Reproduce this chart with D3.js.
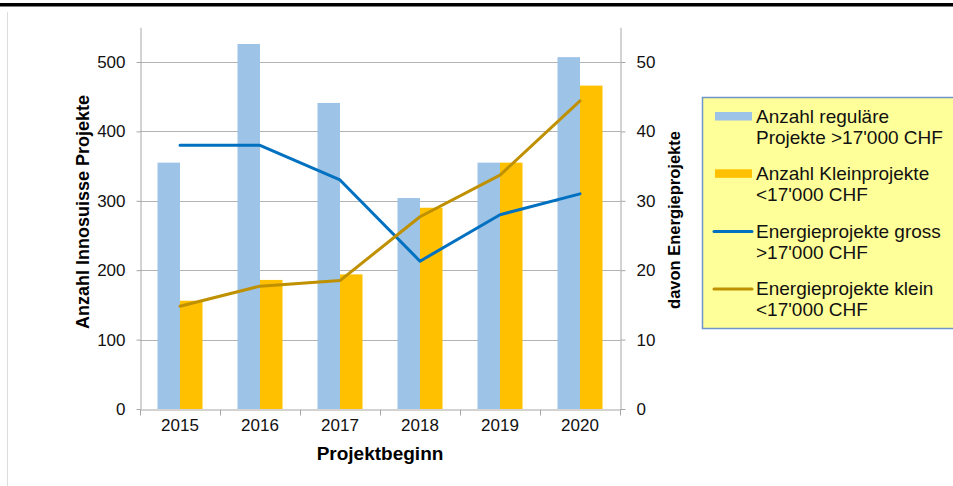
<!DOCTYPE html>
<html>
<head>
<meta charset="utf-8">
<script src="https://cdn.jsdelivr.net/npm/d3@7"></script>
<style>
  body { margin: 0; background: #fff; }
  svg { display: block; font-family: "Liberation Sans", Arial, sans-serif; }
</style>
</head>
<body>
<div id="chart"></div>
<script>
// data
var years = ["2015", "2016", "2017", "2018", "2019", "2020"];
var regulaer = [355, 526, 441, 304, 355, 507];       // Anzahl reguläre Projekte >17'000 CHF
var klein = [156, 186, 194, 290, 355, 466];          // Anzahl Kleinprojekte <17'000 CHF
var energieGross = [38, 38, 33, 21.3, 28, 31];        // Energieprojekte gross (right axis)
var energieKlein = [14.8, 17.7, 18.5, 27.7, 33.7, 44.4]; // Energieprojekte klein (right axis)
var leftTicks = [0, 100, 200, 300, 400, 500];
var rightTicks = [0, 10, 20, 30, 40, 50];

var legendItems = [
  { lines: ["Anzahl reguläre", "Projekte >17'000 CHF"], type: "bar", color: "#9dc3e6" },
  { lines: ["Anzahl Kleinprojekte", "<17'000 CHF"], type: "bar", color: "#ffc000" },
  { lines: ["Energieprojekte gross", ">17'000 CHF"], type: "line", color: "#0070c0" },
  { lines: ["Energieprojekte klein", "<17'000 CHF"], type: "line", color: "#bf9000" }
];

var width = 953, height = 486;
var left = 140, right = 620, bottom = 409;

var svg = d3.select("#chart").append("svg")
    .attr("width", width)
    .attr("height", height);

// frame bits
svg.append("rect").attr("x", 0).attr("y", 3).attr("width", width).attr("height", 3.5).attr("fill", "#000");
svg.append("line").attr("x1", 7.5).attr("x2", 7.5).attr("y1", 12).attr("y2", height)
    .attr("stroke", "#dcdcdc");

var x = d3.scaleBand().domain(years).range([left, right]);
var y = d3.scaleLinear().domain([0, 550]).range([bottom, 27.3]);
var y2 = d3.scaleLinear().domain([0, 55]).range([bottom, 27.3]);
var barW = 22.5;

// gridlines
svg.append("g")
  .selectAll("line")
  .data(leftTicks.slice(1))
  .enter().append("line")
    .attr("x1", left).attr("x2", right)
    .attr("y1", function(d) { return Math.round(y(d)) + 0.5; })
    .attr("y2", function(d) { return Math.round(y(d)) + 0.5; })
    .attr("stroke", "#b3b3b3");

// bars
var bars = svg.append("g");
bars.selectAll("rect.reg")
  .data(regulaer)
  .enter().append("rect")
    .attr("class", "reg")
    .attr("x", function(d, i) { return x(years[i]) + x.bandwidth() / 2 - barW; })
    .attr("y", function(d) { return y(d); })
    .attr("width", barW)
    .attr("height", function(d) { return bottom - y(d); })
    .attr("fill", "#9dc3e6");

bars.selectAll("rect.kl")
  .data(klein)
  .enter().append("rect")
    .attr("class", "kl")
    .attr("x", function(d, i) { return x(years[i]) + x.bandwidth() / 2; })
    .attr("y", function(d) { return y(d); })
    .attr("width", barW)
    .attr("height", function(d) { return bottom - y(d); })
    .attr("fill", "#ffc000");

// axes
var yAxis = svg.append("g")
    .attr("transform", "translate(" + (left + 0.5) + ",0)")
    .call(d3.axisLeft(y).tickValues(leftTicks).tickSize(4).tickSizeOuter(0).tickPadding(11));

var yAxis2 = svg.append("g")
    .attr("transform", "translate(" + (right + 0.5) + ",0)")
    .call(d3.axisRight(y2).tickValues(rightTicks).tickSize(5).tickSizeOuter(0).tickPadding(11));

var xAxis = svg.append("g")
    .attr("transform", "translate(0," + (bottom + 0.5) + ")")
    .call(d3.axisBottom(x).tickSize(0).tickPadding(9));

// category separators on the x axis
xAxis.selectAll("line.sep")
  .data(years.concat(["end"]))
  .enter().append("line")
    .attr("class", "sep")
    .attr("x1", function(d, i) { return Math.round(left + i * x.bandwidth()) + 0.5; })
    .attr("x2", function(d, i) { return Math.round(left + i * x.bandwidth()) + 0.5; })
    .attr("y1", 0).attr("y2", 6)
    .attr("stroke", "#a6a6a6");

[yAxis, yAxis2, xAxis].forEach(function(g) {
  g.selectAll(".domain").attr("stroke", "#a6a6a6");
  g.selectAll(".tick line").attr("stroke", "#a6a6a6");
  g.selectAll("text")
    .attr("font-family", "'Liberation Sans', Arial, sans-serif")
    .attr("font-size", 17)
    .attr("fill", "#111");
});

// lines on the right axis
var line = d3.line()
    .x(function(d, i) { return x(years[i]) + x.bandwidth() / 2; })
    .y(function(d) { return y2(d); });

svg.append("path")
    .datum(energieGross)
    .attr("d", line)
    .attr("fill", "none")
    .attr("stroke", "#0070c0")
    .attr("stroke-width", 3)
    .attr("stroke-linejoin", "round")
    .attr("stroke-linecap", "round");

svg.append("path")
    .datum(energieKlein)
    .attr("d", line)
    .attr("fill", "none")
    .attr("stroke", "#bf9000")
    .attr("stroke-width", 3)
    .attr("stroke-linejoin", "round")
    .attr("stroke-linecap", "round");

// axis titles
svg.append("text")
    .attr("transform", "translate(89,212) rotate(-90)")
    .attr("text-anchor", "middle")
    .attr("font-size", 18)
    .attr("font-weight", "bold")
    .text("Anzahl Innosuisse Projekte");

svg.append("text")
    .attr("transform", "translate(680,220) rotate(-90)")
    .attr("text-anchor", "middle")
    .attr("font-size", 16.5)
    .attr("font-weight", "bold")
    .text("davon Energieprojekte");

svg.append("text")
    .attr("x", 380)
    .attr("y", 460)
    .attr("text-anchor", "middle")
    .attr("font-size", 19)
    .attr("font-weight", "bold")
    .text("Projektbeginn");

// legend
var legend = svg.append("g");
legend.append("rect")
    .attr("x", 702.5).attr("y", 97.5)
    .attr("width", 270).attr("height", 231)
    .attr("fill", "#ffff99")
    .attr("stroke", "#6f94cc")
    .attr("stroke-width", 1.5);

var item = legend.selectAll("g.item")
  .data(legendItems)
  .enter().append("g")
    .attr("class", "item")
    .attr("transform", function(d, i) { return "translate(0," + (123 + i * 57.3) + ")"; });

item.filter(function(d) { return d.type === "bar"; })
  .append("rect")
    .attr("x", 715).attr("y", -11)
    .attr("width", 37).attr("height", 8.5)
    .attr("fill", function(d) { return d.color; });

item.filter(function(d) { return d.type === "line"; })
  .append("line")
    .attr("x1", 714).attr("x2", 752)
    .attr("y1", -6).attr("y2", -6)
    .attr("stroke", function(d) { return d.color; })
    .attr("stroke-width", 3)
    .attr("stroke-linecap", "round");

item.append("text")
    .attr("x", 756)
    .attr("font-size", 19)
    .attr("fill", "#111")
  .selectAll("tspan")
  .data(function(d) { return d.lines; })
  .enter().append("tspan")
    .attr("x", 756)
    .attr("dy", function(d, i) { return i === 0 ? 0 : 21; })
    .text(function(d) { return d; });
</script>
</body>
</html>
